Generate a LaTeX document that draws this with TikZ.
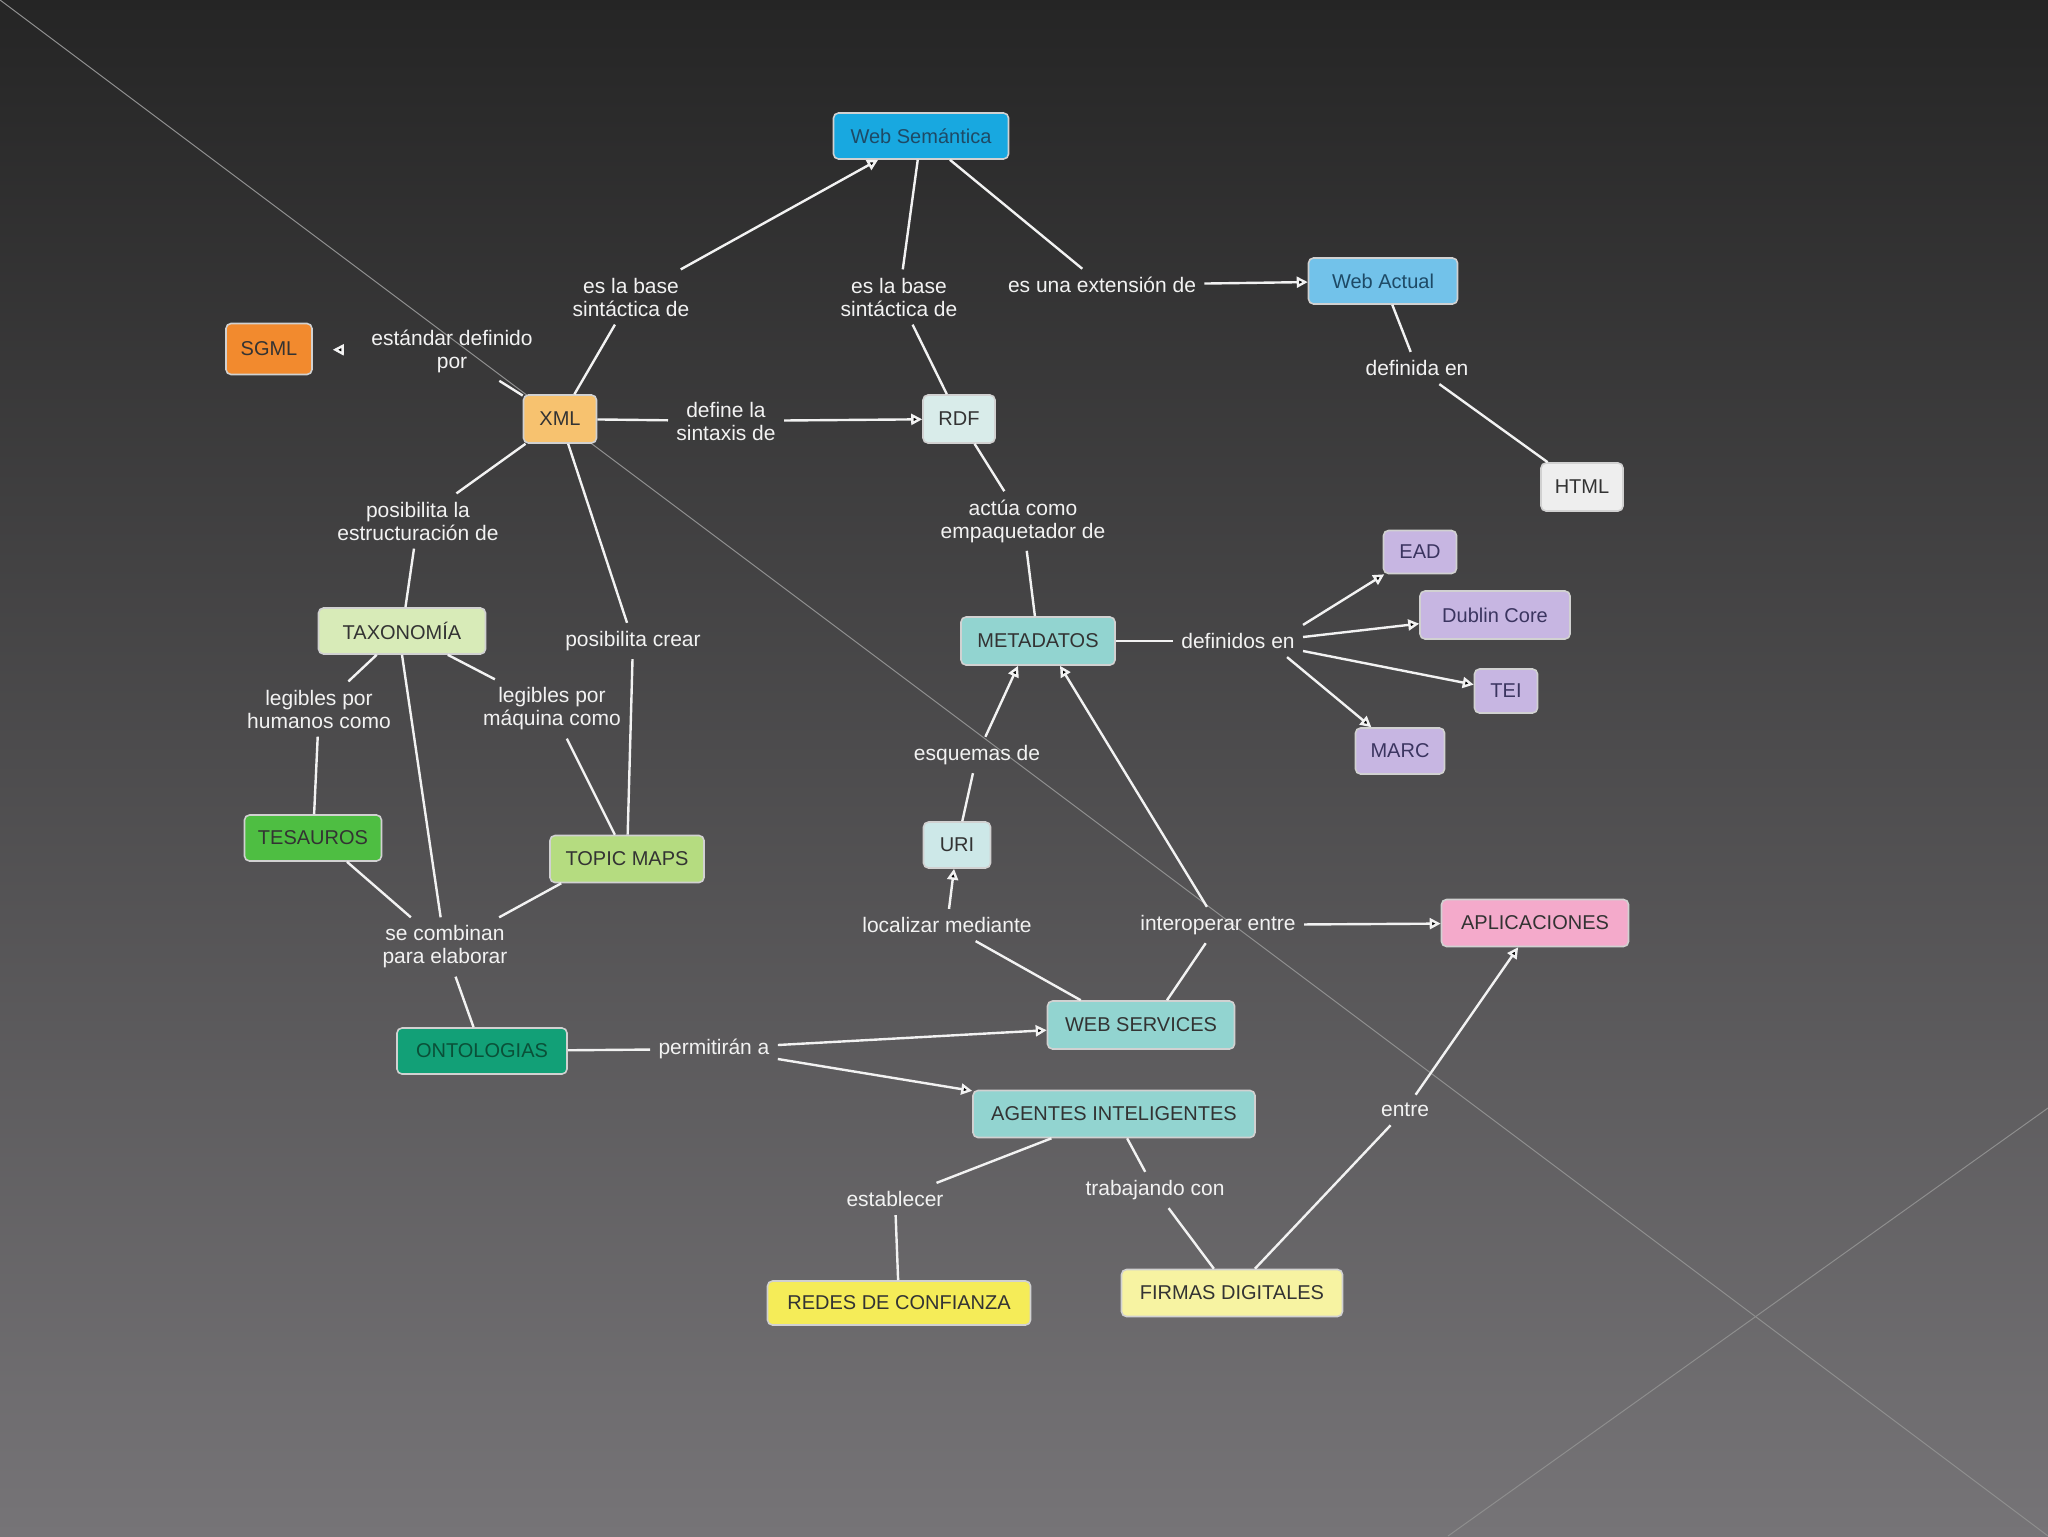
\documentclass[tikz,border=0pt]{standalone}
\usepackage{fontspec}
\setmainfont{Liberation Sans}
\usetikzlibrary{arrows.meta}
\definecolor{bgtop}{HTML}{252525}
\definecolor{bgbot}{HTML}{767477}
\definecolor{diag}{HTML}{8E8E8E}
\definecolor{wsC}{HTML}{18A8E0}
\definecolor{wactC}{HTML}{72C2EA}
\definecolor{sgmlC}{HTML}{F28A2E}
\definecolor{xmlC}{HTML}{F7C26F}
\definecolor{rdfC}{HTML}{D9ECEA}
\definecolor{htmlC}{HTML}{EEEEEE}
\definecolor{purC}{HTML}{C7B6E2}
\definecolor{taxC}{HTML}{D8EBB8}
\definecolor{tealC}{HTML}{92D4D0}
\definecolor{tesC}{HTML}{4EBE42}
\definecolor{topicC}{HTML}{B5DC80}
\definecolor{uriC}{HTML}{CDE8E8}
\definecolor{aplC}{HTML}{F4AACB}
\definecolor{ontoC}{HTML}{12A077}
\definecolor{redesC}{HTML}{F5EC58}
\definecolor{firmasC}{HTML}{F7F3A2}
\definecolor{txtC}{HTML}{333333}
\definecolor{wstxt}{HTML}{1E4A66}
\definecolor{purtxt}{HTML}{3B3560}
\definecolor{ontotxt}{HTML}{0A5038}
\definecolor{linkC}{HTML}{F2F2F2}
\begin{document}
\begin{tikzpicture}[x=0.5pt,y=-0.5pt,
  box/.style={draw=white!82!black, line width=0.8pt, rounded corners=2.5pt,
    minimum height=23pt, inner sep=2pt, text=txtC,
    font=\fontsize{10}{12}\selectfont},
  boxw/.style={minimum width=#1*0.5pt},
  boxh/.style={minimum height=#1*0.5pt},
  lbl/.style={text=linkC, font=\fontsize{10.5}{11.5}\selectfont, align=center, inner sep=4pt},
  con/.style={draw=linkC, line width=1.2pt},
  arr/.style={con, -{Triangle[fill=black,length=5.5pt,width=5.5pt]}}
]
\useasboundingbox (0,0) rectangle (2048,1536);
\shade[top color=bgtop, bottom color=bgbot] (0,0) rectangle (2048,1536);
\draw[diag, line width=0.5pt] (0,0) -- (2048,1536);
\draw[diag, line width=0.5pt] (1448,1536) -- (2048,1108);

% concept nodes
\node[box, boxw=175, fill=wsC, text=wstxt] (ws) at (921,136) {Web Semántica};
\node[box, boxw=149, fill=wactC, text=wstxt] (wact) at (1383,281) {Web Actual};
\node[box, boxw=86, boxh=51, fill=sgmlC] (sgml) at (269,349) {SGML};
\node[box, boxw=73, boxh=48, fill=xmlC] (xml) at (560,419) {XML};
\node[box, boxw=72, boxh=48, fill=rdfC] (rdf) at (959,419) {RDF};
\node[box, boxw=82, boxh=48, fill=htmlC] (html) at (1582,487) {HTML};
\node[box, boxw=73, boxh=43, fill=purC, text=purtxt] (ead) at (1420,552) {EAD};
\node[box, boxw=150, boxh=48, fill=purC, text=purtxt] (dublin) at (1495,615) {Dublin Core};
\node[box, boxw=63, boxh=44, fill=purC, text=purtxt] (tei) at (1506,691) {TEI};
\node[box, boxw=89, boxh=46, fill=purC, text=purtxt] (marc) at (1400,751) {MARC};
\node[box, boxw=167, fill=taxC] (tax) at (402,631) {TAXONOMÍA};
\node[box, boxw=154, boxh=48, fill=tealC] (meta) at (1038,641) {METADATOS};
\node[box, boxw=137, fill=tesC] (tes) at (313,838) {TESAUROS};
\node[box, boxw=154, boxh=47, fill=topicC] (topic) at (627,859) {TOPIC MAPS};
\node[box, boxw=67, fill=uriC] (uri) at (957,845) {URI};
\node[box, boxw=187, boxh=47, fill=aplC] (apl) at (1535,923) {APLICACIONES};
\node[box, boxw=187, boxh=48, fill=tealC] (wsv) at (1141,1025) {WEB SERVICES};
\node[box, boxw=170, fill=ontoC, text=ontotxt] (onto) at (482,1051) {ONTOLOGIAS};
\node[box, boxw=282, boxh=47, fill=tealC] (agt) at (1114,1114) {AGENTES INTELIGENTES};
\node[box, boxw=263, boxh=44, fill=redesC] (redes) at (899,1303) {REDES DE CONFIANZA};
\node[box, boxw=221, boxh=47, fill=firmasC] (firmas) at (1232,1293) {FIRMAS DIGITALES};

% link labels
\node[lbl] (lxws) at (631,297) {es la base\\sintáctica de};
\node[lbl] (lrws) at (899,297) {es la base\\sintáctica de};
\node[lbl] (lext) at (1102,285) {es una extensión de};
\node[lbl] (lsgml) at (452,351) {estándar definido\\por};
\node[lbl] (ldef) at (726,421) {define la\\sintaxis de};
\node[lbl] (lhtml) at (1417,368) {definida en};
\node[lbl] (lemp) at (1023,521) {actúa como\\empaquetador de};
\node[lbl] (lest) at (418,521) {posibilita la\\estructuración de};
\node[lbl] (lcrear) at (633,641) {posibilita crear};
\node[lbl] (ldefen) at (1238,641) {definidos en};
\node[lbl] (lhum) at (319,709) {legibles por\\humanos como};
\node[lbl] (lmaq) at (552,709) {legibles por\\máquina como};
\node[lbl] (lesq) at (977,755) {esquemas de};
\node[lbl] (lloc) at (947,925) {localizar mediante};
\node[lbl] (linter) at (1218,925) {interoperar entre};
\node[lbl] (lcomb) at (445,947) {se combinan\\para elaborar};
\node[lbl] (lperm) at (714,1049) {permitirán a};
\node[lbl] (lestab) at (895,1199) {establecer};
\node[lbl] (ltrab) at (1155,1190) {trabajando con};
\node[lbl] (lentre) at (1405,1110) {entre};

% connectors
\draw[con] (xml) -- (lxws);
\draw[arr] (lxws) -- (ws);
\draw[con] (ws) -- (lrws);
\draw[con] (lrws) -- (rdf);
\draw[con] (ws) -- (lext);
\draw[arr] (lext) -- (wact);
\draw[con] (wact) -- (lhtml);
\draw[con] (lhtml) -- (html);
\draw[con] (xml) -- (lsgml);
\draw[arr, shorten <=10pt, shorten >=10pt] (lsgml) -- (sgml);
\draw[con] (xml) -- (ldef);
\draw[arr] (ldef) -- (rdf);
\draw[con] (rdf) -- (lemp);
\draw[con] (lemp) -- (meta);
\draw[con] (xml) -- (lest);
\draw[con] (lest) -- (tax);
\draw[con] (xml) -- (lcrear);
\draw[con] (lcrear) -- (topic);
\draw[con] (meta) -- (ldefen);
\draw[arr] (ldefen.north east) -- (ead);
\draw[arr] ([yshift=2pt]ldefen.east) -- (dublin);
\draw[arr] ([yshift=-5pt]ldefen.east) -- (tei);
\draw[arr] ([xshift=-8pt]ldefen.south east) -- (marc);
\draw[con] (tax) -- (lhum);
\draw[con] (lhum) -- (tes);
\draw[con] (tax) -- (lmaq);
\draw[con] (lmaq) -- (topic);
\draw[con] (tax.south) -- (lcomb);
\draw[con] ([xshift=17pt]tes.south) -- (lcomb);
\draw[con] ([xshift=6pt]topic.south west) -- (lcomb);
\draw[con] (lcomb) -- (onto);
\draw[con] (uri) -- (lesq);
\draw[arr] (lesq) -- ([xshift=-10pt]meta.south);
\draw[con] ([xshift=13pt]wsv.north) -- (linter);
\draw[arr] (linter) -- ([xshift=11pt]meta.south);
\draw[arr] (linter) -- (apl);
\draw[con] ([xshift=17pt]wsv.north west) -- (lloc);
\draw[arr] (lloc) -- (uri);
\draw[con] (onto) -- (lperm);
\draw[arr] ([yshift=2pt]lperm.east) -- (wsv);
\draw[arr] ([yshift=-5pt]lperm.east) -- (agt);
\draw[con] (agt) -- (lestab);
\draw[con] (lestab) -- (redes);
\draw[con] (agt) -- (ltrab);
\draw[con] (ltrab) -- (firmas);
\draw[con] (firmas) -- (lentre);
\draw[arr] (lentre) -- (apl);
\end{tikzpicture}
\end{document}
